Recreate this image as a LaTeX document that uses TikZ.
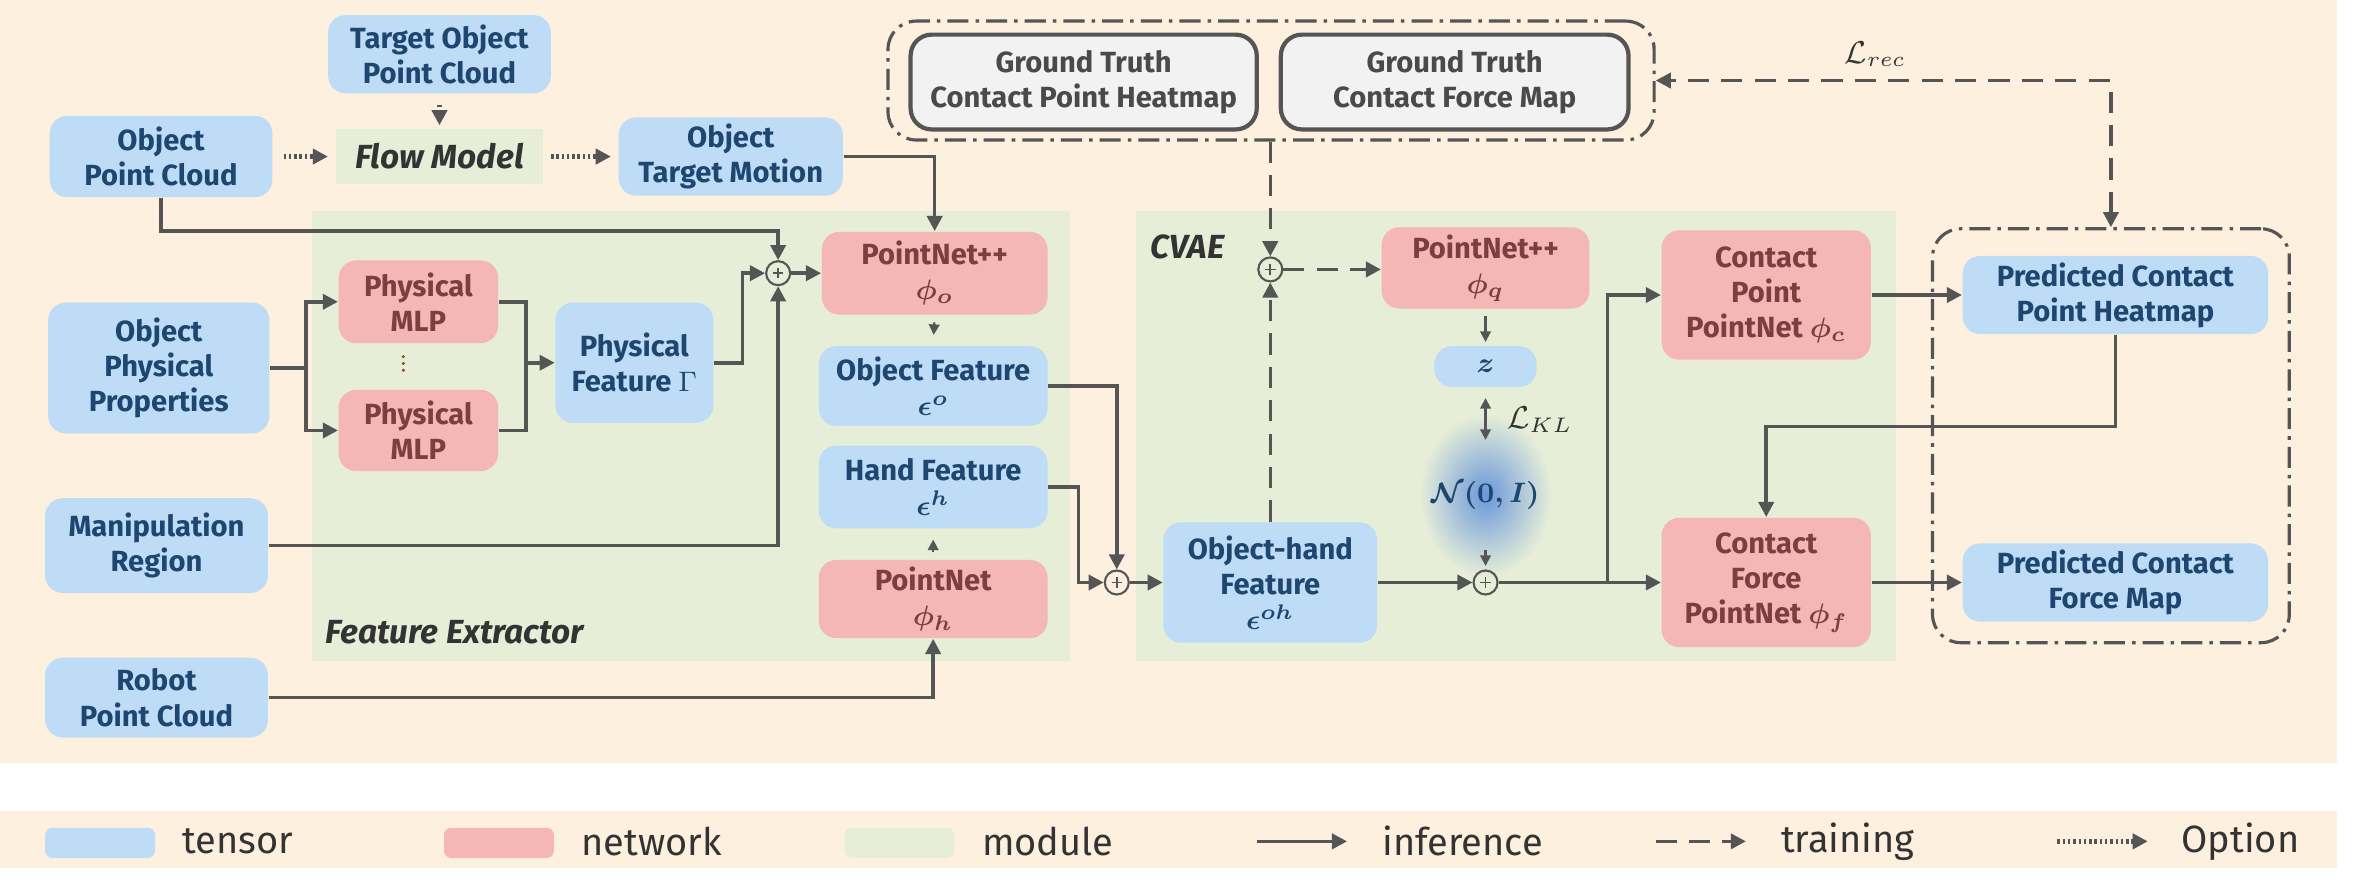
\documentclass[tikz,border=0pt]{standalone}
\usepackage{fontspec}
\setmainfont{Fira Sans}
\usepackage{amsmath}
\usepackage{bm}
\usetikzlibrary{arrows.meta,calc}
\definecolor{bgpeach}{HTML}{FEF0DE}
\definecolor{tensorfill}{HTML}{BFDCF6}
\definecolor{tensortext}{HTML}{1D4770}
\definecolor{netfill}{HTML}{F5B6B6}
\definecolor{nettext}{HTML}{7B3F3F}
\definecolor{modfill}{HTML}{E6EED8}
\definecolor{arrowc}{HTML}{555555}
\definecolor{gtfill}{HTML}{F2F2F2}
\definecolor{gttext}{HTML}{4A4A4A}
\definecolor{labeltext}{HTML}{333333}
\definecolor{blobc}{HTML}{6A97DA}
\definecolor{dotc}{HTML}{9A4A20}
% box from corner (x1,y1) to (x2,y2) in reference units
\newcommand\bx[6]{\node[#1, minimum width={(#4-#2)*0.01505cm}, minimum height={(#5-#3)*0.01505cm}] (#6) at ({(#2+#4)/2},{(#3+#5)/2})}
\begin{document}
\begin{tikzpicture}[x=0.01505cm, y=-0.01505cm,
  box/.style={rounded corners=5pt, inner sep=0pt, align=center, font=\bfseries\fontsize{8.3}{10}\selectfont},
  tensor/.style={box, fill=tensorfill, text=tensortext},
  net/.style={box, fill=netfill, text=nettext},
  gt/.style={box, fill=gtfill, draw=arrowc, line width=1.2pt, text=gttext, rounded corners=6pt},
  grp/.style={draw=arrowc, line width=0.9pt, dash pattern=on 6pt off 2pt on 1pt off 2pt, rounded corners=8pt, inner sep=0pt},
  oplus/.style={circle, draw=arrowc, line width=0.6pt, minimum size=0.24cm, inner sep=0pt,
    path picture={\draw[arrowc, line width=0.5pt]
      ($(path picture bounding box.west)!0.28!(path picture bounding box.east)$) --
      ($(path picture bounding box.west)!0.72!(path picture bounding box.east)$)
      ($(path picture bounding box.north)!0.28!(path picture bounding box.south)$) --
      ($(path picture bounding box.north)!0.72!(path picture bounding box.south)$);}},
  tip/.style={-{Triangle[length=4.3pt,width=4.3pt]}},
  inf/.style={draw=arrowc, line width=1pt, tip},
  plain/.style={draw=arrowc, line width=1pt},
  thin/.style={draw=arrowc, line width=0.6pt, -{Triangle[length=3pt,width=3pt]}},
  train/.style={draw=arrowc, line width=1pt, dash pattern=on 6pt off 3.5pt, tip},
  opt/.style={draw=arrowc, line width=1.3pt, dash pattern=on 0.7pt off 0.8pt, tip},
  modlabel/.style={font=\bfseries\itshape\fontsize{9.5}{11}\selectfont, text=labeltext, inner sep=0pt},
  legtext/.style={font=\fontsize{10.8}{12}\selectfont, text=labeltext, inner sep=0pt, anchor=west},
  mathlabel/.style={font=\fontsize{9}{10}\selectfont, text=labeltext, inner sep=0pt},
  swatch/.style={rounded corners=2pt, inner sep=0pt}
]
\fill[white] (0,0) rectangle (1568,593);
\useasboundingbox (0,0) rectangle (1568,593);
\fill[bgpeach] (0,0) rectangle (1553,507);
\fill[modfill] (207,140) rectangle (711,439);
\fill[modfill] (755,140) rectangle (1260,439);
\node[modlabel, anchor=west] (felabel) at (216,420) {Feature Extractor};
\node[modlabel, anchor=west] (cvaelabel) at (764,164) {CVAE};

% top row
\bx{tensor}{218}{10}{366}{62}{tpc} {Target Object\\Point Cloud};
\bx{tensor}{33}{77}{181}{131}{opc} {Object\\Point Cloud};
\bx{box, rounded corners=0pt, fill=modfill, font=\bfseries\itshape\fontsize{9.5}{11}\selectfont, text=labeltext}{223}{86}{361}{122}{flow} {Flow Model};
\bx{tensor}{411}{78}{560}{130}{otm} {Object\\Target Motion};

% left column
\bx{tensor}{32}{201}{179}{288}{opp} {Object\\Physical\\Properties};
\bx{tensor}{30}{331}{178}{394}{mr} {Manipulation\\Region};
\bx{tensor}{30}{437}{178}{490}{rpc} {Robot\\Point Cloud};

% feature extractor
\bx{net}{225}{173}{331}{228}{mlp1} {Physical\\MLP};
\bx{net}{225}{259}{331}{313}{mlp2} {Physical\\MLP};
\fill[dotc] (268,237) circle (1.1) (268,241.5) circle (1.1) (268,246) circle (1.1);
\bx{tensor}{369}{201}{474}{281}{pf} {Physical\\Feature $\Gamma$};
\node[oplus] (p1) at (517,181.5) {};
\bx{net}{546}{154}{696}{209}{pno} {PointNet++\\$\bm{\phi_o}$};
\bx{tensor}{544}{230}{696}{283}{of} {Object Feature\\$\bm{\epsilon^o}$};
\bx{tensor}{544}{296}{696}{351}{hf} {Hand Feature\\$\bm{\epsilon^h}$};
\bx{net}{544}{372}{696}{424}{pnh} {PointNet\\$\bm{\phi_h}$};
\node[oplus] (p2) at (742,387) {};

% CVAE
\bx{tensor}{773}{347}{915}{427}{ohf} {Object-hand\\Feature\\$\bm{\epsilon^{oh}}$};
\node[oplus] (p4) at (844,179) {};
\bx{net}{918}{151}{1056}{205}{pnq} {PointNet++\\$\bm{\phi_q}$};
\bx{tensor}{953}{230}{1021}{257}{z} {$\bm{z}$};
\shade[inner color=blobc, outer color=modfill] (987,329) ellipse (44 and 54);
\node[text=tensortext, font=\fontsize{7.6}{9}\selectfont, inner sep=0pt, minimum height=0.95cm] (nn) at (987,329) {$\bm{\mathcal{N}(0,I)}$};
\node[oplus] (p3) at (987,387) {};
\bx{net}{1104}{153}{1243}{239}{cp} {Contact\\Point\\PointNet $\bm{\phi_c}$};
\bx{net}{1104}{344}{1243}{430}{cf} {Contact\\Force\\PointNet $\bm{\phi_f}$};

% predictions
\bx{tensor}{1304}{170}{1507}{222}{pch} {Predicted Contact\\Point Heatmap};
\bx{tensor}{1304}{361}{1507}{413}{pfm} {Predicted Contact\\Force Map};
\bx{grp}{1284}{152}{1521}{427}{pg} {};

% ground truth
\bx{gt}{605}{23}{835}{86}{gt1} {Ground Truth\\Contact Point Heatmap};
\bx{gt}{851}{23}{1082}{86}{gt2} {Ground Truth\\Contact Force Map};
\bx{grp}{590}{14}{1099}{93}{gtg} {};

\node[mathlabel] (lrec) at (1246,36) {$\mathcal{L}_{rec}$};
\node[mathlabel, anchor=west] (lkl) at (1001,279) {$\mathcal{L}_{KL}$};

% option arrows
\draw[opt, shorten <=3pt, shorten >=1pt] (tpc.south) -- (flow.north);
\draw[opt, shorten <=3pt, shorten >=2pt] (opc.east) -- (flow.west);
\draw[opt, shorten <=2pt, shorten >=2pt] (flow.east) -- (otm.west);

% inference arrows
\draw[inf] (otm.east) -| (pno.north);
\draw[inf] (opc.south) -- ++(0,22) -| (p1.north);
\draw[inf] (opp.east) -- ++(24,0) coordinate (j1) |- (mlp1.west);
\draw[inf] (j1) |- (mlp2.west);
\draw[plain] (mlp1.east) -- ++(18,0) coordinate (j2) -- (j2 |- mlp2.east) -- (mlp2.east);
\draw[inf] (j2 |- pf.west) -- (pf.west);
\draw[inf] (pf.east) -- ++(19,0) |- (p1.west);
\draw[inf] (p1.east) -- (pno.west |- p1.east);
\draw[inf] (mr.east) -| (p1.south);
\draw[thin, shorten <=2pt, shorten >=3pt] (pno.south) -- (of.north);
\draw[thin, shorten <=2pt, shorten >=3pt] (pnh.north) -- (hf.south);
\draw[inf] (rpc.east) -| (pnh.south);
\draw[inf] (of.east) -| (p2.north);
\draw[inf] (hf.east) -- ++(20,0) |- (p2.west);
\draw[inf] (p2.east) -- (ohf.west);
\draw[inf] (ohf.east) -- (p3.west);
\draw[thin, shorten <=2pt, shorten >=1pt] (nn.south) -- (p3.north);
\draw[thin, shorten <=2pt, shorten >=1pt] (pnq.south) -- (z.north);
\draw[draw=arrowc, line width=0.6pt, {Triangle[length=3pt,width=3pt]}-{Triangle[length=3pt,width=3pt]}, shorten <=3pt, shorten >=2pt] (z.south) -- (nn.north);
\draw[inf] (p3.east) -- (cf.west);
\coordinate (j3) at (1068,387);
\draw[inf] (j3) |- (cp.west);
\draw[inf] (cp.east) -- (pch.west |- cp.east);
\draw[inf] (cf.east) -- (pfm.west |- cf.east);
\draw[inf] (pch.south) -- ++(0,61) -| (cf.north);

% training arrows
\draw[train] (ohf.north -| p4) -- (p4.south);
\draw[train] (gtg.south -| p4) -- (p4.north);
\draw[train] (p4.east) -- (pnq.west |- p4.east);
\draw[draw=arrowc, line width=1pt, dash pattern=on 6pt off 3.5pt, {Triangle[length=4.3pt,width=4.3pt]}-{Triangle[length=4.3pt,width=4.3pt]}] (pg.north) |- (gtg.east);

% legend
\fill[bgpeach] (0,539) rectangle (1553,577);
\bx{swatch, fill=tensorfill}{30}{550}{103}{570}{lg1} {};
\node[legtext] (lt1) at (121,559) {tensor};
\bx{swatch, fill=netfill}{295}{550}{368}{570}{lg2} {};
\node[legtext] (lt2) at (386,559) {network};
\bx{swatch, fill=modfill}{561}{550}{634}{570}{lg3} {};
\node[legtext] (lt3) at (652,559) {module};
\coordinate (la1) at (835,559); \coordinate (la2) at (895,559);
\draw[inf] (la1) -- (la2);
\node[legtext] (lt4) at (918,559) {inference};
\coordinate (lb1) at (1100,559); \coordinate (lb2) at (1160,559);
\draw[train] (lb1) -- (lb2);
\node[legtext] (lt5) at (1183,559) {training};
\coordinate (lc1) at (1367,559); \coordinate (lc2) at (1427,559);
\draw[opt] (lc1) -- (lc2);
\node[legtext] (lt6) at (1449,559) {Option};
\end{tikzpicture}
\end{document}
